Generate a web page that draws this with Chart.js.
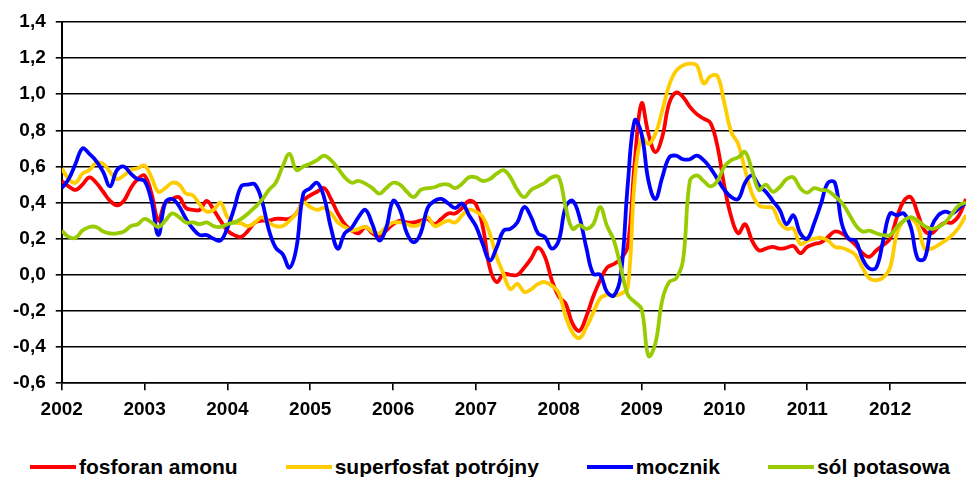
<!DOCTYPE html>
<html>
<head>
<meta charset="utf-8">
<script src="https://cdn.jsdelivr.net/npm/chart.js@4.4.1/dist/chart.umd.min.js"></script>
<style>
  body { margin: 0; background: #fff; }
  #wrap { position: relative; width: 966px; height: 477px; }
  #legend {
    position: absolute; left: 30px; top: 455px;
    display: flex; gap: 48px;
    font: bold 21px "Liberation Sans", Arial, sans-serif;
    line-height: 24px; color: #000;
  }
  .item { display: flex; align-items: center; white-space: nowrap; }
  .line { display: inline-block; width: 46px; height: 4px; margin-right: 3px; }
</style>
</head>
<body>
<div id="wrap">
  <canvas id="myChart" width="966" height="430"></canvas>
  <div id="legend"></div>
</div>
<script>
'use strict';
// Data (monthly, Jan 2002 - Dec 2012)
var years = ['2002', '2003', '2004', '2005', '2006', '2007', '2008', '2009', '2010', '2011', '2012'];
var seriesNames = ['fosforan amonu', 'superfosfat potrójny', 'mocznik', 'sól potasowa'];
var seriesColors = ['#ff0000', '#ffcc00', '#0000ff', '#99cc00'];

var fosforanAmonu = [
  0.52, 0.49, 0.47, 0.50, 0.54, 0.51, 0.46, 0.41, 0.385, 0.41, 0.48, 0.53,
  0.55, 0.45, 0.30, 0.40, 0.42, 0.43, 0.37, 0.36, 0.36, 0.41, 0.36, 0.30,
  0.245, 0.22, 0.21, 0.245, 0.29, 0.30, 0.30, 0.31, 0.31, 0.31, 0.34, 0.41,
  0.44, 0.46, 0.48, 0.42, 0.34, 0.28, 0.245, 0.23, 0.265, 0.23, 0.21, 0.245,
  0.28, 0.30, 0.29, 0.29, 0.30, 0.31, 0.28, 0.31, 0.34, 0.34, 0.37, 0.41,
  0.39, 0.265, 0.04, -0.04, 0.005, 0.0, 0.0, 0.04, 0.09, 0.15, 0.10, -0.03,
  -0.12, -0.16, -0.27, -0.31, -0.23, -0.12, -0.03, 0.04, 0.06, 0.09, 0.16, 0.62,
  0.95, 0.78, 0.68, 0.765, 0.95, 1.01, 0.985, 0.93, 0.89, 0.865, 0.84, 0.71,
  0.49, 0.32, 0.23, 0.28, 0.19, 0.135, 0.145, 0.155, 0.145, 0.15, 0.16, 0.12,
  0.155, 0.17, 0.18, 0.21, 0.24, 0.23, 0.20, 0.165, 0.12, 0.10, 0.135, 0.165,
  0.20, 0.32, 0.41, 0.43, 0.34, 0.245, 0.23, 0.265, 0.29, 0.29, 0.33, 0.42
];
var superfosfat = [
  0.59, 0.53, 0.51, 0.56, 0.58, 0.62, 0.615, 0.57, 0.53, 0.55, 0.58, 0.59,
  0.605, 0.54, 0.46, 0.48, 0.51, 0.50, 0.45, 0.44, 0.39, 0.35, 0.36, 0.40,
  0.32, 0.29, 0.285, 0.27, 0.29, 0.32, 0.29, 0.27, 0.27, 0.30, 0.34, 0.40,
  0.375, 0.36, 0.37, 0.34, 0.29, 0.265, 0.245, 0.255, 0.265, 0.24, 0.23, 0.265,
  0.29, 0.29, 0.28, 0.27, 0.28, 0.32, 0.27, 0.285, 0.30, 0.29, 0.33, 0.36,
  0.35, 0.32, 0.23, 0.10, 0.005, -0.08, -0.05, -0.095, -0.08, -0.05, -0.04, -0.06,
  -0.10, -0.23, -0.32, -0.35, -0.29, -0.21, -0.13, -0.11, -0.115, -0.105, -0.07, 0.52,
  0.76, 0.725, 0.78, 0.91, 1.05, 1.13, 1.16, 1.17, 1.16, 1.06, 1.10, 1.10,
  0.95, 0.79, 0.725, 0.58, 0.45, 0.385, 0.375, 0.37, 0.29, 0.255, 0.255, 0.17,
  0.19, 0.20, 0.205, 0.19, 0.155, 0.15, 0.135, 0.11, 0.04, -0.02, -0.03, -0.015,
  0.04, 0.23, 0.30, 0.31, 0.27, 0.145, 0.145, 0.165, 0.19, 0.22, 0.265, 0.33
];
var mocznik = [
  0.48, 0.53, 0.615, 0.70, 0.67, 0.63, 0.57, 0.49, 0.58, 0.60, 0.56, 0.53,
  0.52, 0.41, 0.22, 0.40, 0.42, 0.38, 0.31, 0.255, 0.22, 0.22, 0.20, 0.19,
  0.26, 0.37, 0.49, 0.50, 0.50, 0.41, 0.25, 0.15, 0.115, 0.04, 0.15, 0.45,
  0.48, 0.51, 0.43, 0.26, 0.145, 0.23, 0.26, 0.32, 0.36, 0.28, 0.19, 0.26,
  0.41, 0.36, 0.23, 0.18, 0.23, 0.37, 0.41, 0.42, 0.395, 0.37, 0.395, 0.33,
  0.27, 0.17, 0.08, 0.15, 0.245, 0.255, 0.29, 0.375, 0.32, 0.23, 0.21, 0.145,
  0.19, 0.375, 0.41, 0.32, 0.15, 0.005, 0.0, -0.095, -0.115, 0.0, 0.50, 0.855,
  0.78, 0.52, 0.42, 0.54, 0.65, 0.66, 0.64, 0.64, 0.66, 0.635, 0.59, 0.53,
  0.47, 0.43, 0.42, 0.51, 0.55, 0.495, 0.46, 0.41, 0.36, 0.28, 0.33, 0.23,
  0.20, 0.285, 0.395, 0.51, 0.51, 0.285, 0.20, 0.19, 0.09, 0.035, 0.04, 0.19,
  0.34, 0.33, 0.34, 0.265, 0.09, 0.09, 0.265, 0.33, 0.35, 0.34, 0.37, 0.40
];
var solPotasowa = [
  0.245, 0.21, 0.205, 0.245, 0.265, 0.265, 0.24, 0.23, 0.23, 0.24, 0.27, 0.28,
  0.31, 0.29, 0.265, 0.30, 0.34, 0.32, 0.29, 0.29, 0.28, 0.29, 0.27, 0.265,
  0.28, 0.29, 0.31, 0.34, 0.375, 0.415, 0.47, 0.51, 0.60, 0.67, 0.58, 0.60,
  0.615, 0.635, 0.66, 0.635, 0.59, 0.54, 0.51, 0.52, 0.505, 0.48, 0.45, 0.48,
  0.51, 0.50, 0.46, 0.43, 0.47, 0.48, 0.485, 0.50, 0.50, 0.48, 0.505, 0.54,
  0.54, 0.52, 0.53, 0.56, 0.58, 0.54, 0.47, 0.43, 0.47, 0.49, 0.51, 0.54,
  0.54, 0.375, 0.255, 0.275, 0.255, 0.28, 0.375, 0.27, 0.19, 0.04, -0.11, -0.15,
  -0.19, -0.45, -0.38, -0.14, -0.04, -0.02, 0.08, 0.52, 0.55, 0.52, 0.49, 0.52,
  0.60, 0.635, 0.65, 0.68, 0.58, 0.47, 0.50, 0.46, 0.485, 0.53, 0.54, 0.48,
  0.455, 0.48, 0.47, 0.465, 0.435, 0.40, 0.34, 0.275, 0.24, 0.245, 0.23, 0.22,
  0.22, 0.265, 0.30, 0.32, 0.30, 0.27, 0.255, 0.265, 0.29, 0.34, 0.385, 0.40
];
var allSeries = [fosforanAmonu, superfosfat, mocznik, solPotasowa];

var tickFont = { family: '"Liberation Sans", Arial, sans-serif', size: 19, weight: 'bold' };

var datasets = [];
for (var i = 0; i < allSeries.length; i++) {
  datasets.push({
    label: seriesNames[i],
    borderColor: seriesColors[i],
    backgroundColor: seriesColors[i],
    // excel draws the last series on top
    order: allSeries.length - i,
    data: allSeries[i].map(function (v, m) { return { x: m, y: v }; })
  });
}

var ctx = document.getElementById('myChart').getContext('2d');
var chart = new Chart(ctx, {
  type: 'line',
  data: { datasets: datasets },
  options: {
    responsive: false,
    animation: false,
    layout: { padding: { top: 22, left: 3, right: 0, bottom: 1 } },
    plugins: { legend: { display: false }, tooltip: { enabled: false } },
    elements: {
      point: { radius: 0 },
      line: { borderWidth: 3.8, tension: 0.4, fill: false }
    },
    scales: {
      x: {
        type: 'linear',
        min: 0,
        max: 131,
        grid: { drawOnChartArea: false, color: '#000', lineWidth: 1.6, tickLength: 7 },
        border: { color: '#000', width: 1.6 },
        ticks: {
          stepSize: 12,
          includeBounds: false,
          autoSkip: false,
          maxRotation: 0,
          padding: 8,
          color: '#000',
          font: tickFont,
          callback: function (v) { return years[v / 12]; }
        }
      },
      y: {
        min: -0.6,
        max: 1.4,
        grid: { color: '#000', lineWidth: 1.6, tickLength: 6 },
        border: { color: '#000', width: 2 },
        ticks: {
          stepSize: 0.2,
          padding: 10,
          color: '#000',
          font: tickFont,
          callback: function (v) { return (Math.round(v * 10) / 10).toFixed(1).replace('.', ','); }
        }
      }
    }
  }
});

// html legend, same look as the excel one
var legendElem = document.getElementById('legend');
for (var j = 0; j < seriesNames.length; j++) {
  var item = document.createElement('div');
  item.className = 'item';
  var line = document.createElement('span');
  line.className = 'line';
  line.style.background = seriesColors[j];
  var txt = document.createElement('span');
  txt.textContent = seriesNames[j];
  item.appendChild(line);
  item.appendChild(txt);
  legendElem.appendChild(item);
}
</script>
</body>
</html>
